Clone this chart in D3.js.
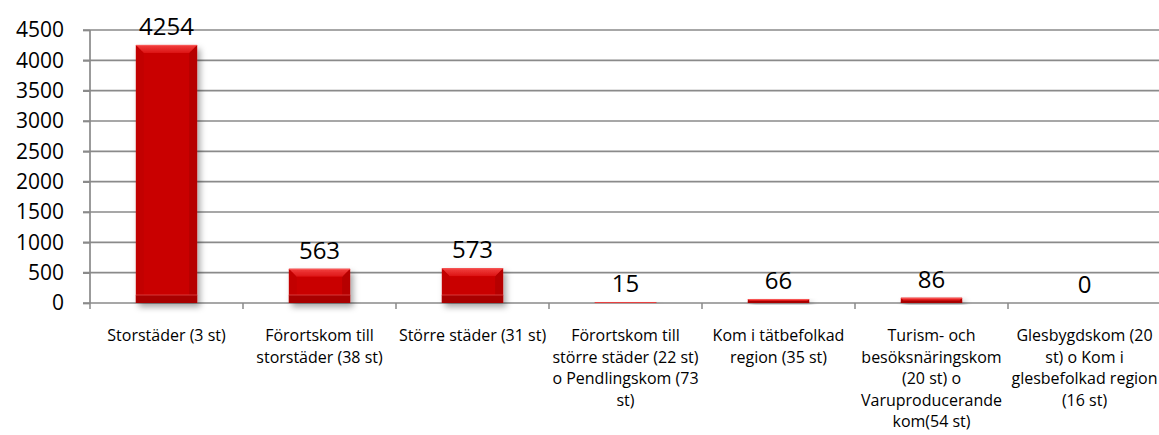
<!DOCTYPE html>
<html>
<head>
<meta charset="utf-8">
<script src="https://cdn.jsdelivr.net/npm/d3@7"></script>
<style>
  html, body { margin: 0; padding: 0; background: #fff; }
  svg { display: block; font-family: "Open Sans", sans-serif; }
</style>
</head>
<body>
<svg id="chart" width="1159" height="435"></svg>
<script>
// Category labels (line breaks as they are set under the axis)
const categories = [
  "Storstäder (3 st)",
  "Förortskom till\nstorstäder (38 st)",
  "Större städer (31 st)",
  "Förortskom till\nstörre städer (22 st)\no Pendlingskom (73\nst)",
  "Kom i tätbefolkad\nregion (35 st)",
  "Turism- och\nbesöksnäringskom\n(20 st) o\nVaruproducerande\nkom(54 st)",
  "Glesbygdskom (20\nst) o Kom i\nglesbefolkad region\n(16 st)"
];
const values = [4254, 563, 573, 15, 66, 86, 0];
const yTicks = [0, 500, 1000, 1500, 2000, 2500, 3000, 3500, 4000, 4500];

const svg = d3.select("#chart");
const plotLeft = 90, plotRight = 1161, plotTop = 30, plotBottom = 303;

const x = d3.scaleBand().domain(categories).range([plotLeft, plotRight]).padding(0);
const y = d3.scaleLinear().domain([0, 4500]).range([plotBottom, plotTop]);

// Shadow and bevel gradients
const defs = svg.append("defs");
const f = defs.append("filter").attr("id", "shadow")
  .attr("x", "-20%").attr("y", "-20%").attr("width", "150%").attr("height", "150%");
f.append("feDropShadow").attr("dx", 3).attr("dy", 4).attr("stdDeviation", 3)
  .attr("flood-color", "#000").attr("flood-opacity", 0.35);

const gTop = defs.append("linearGradient").attr("id", "bevelTop")
  .attr("x1", 0).attr("y1", 0).attr("x2", 0).attr("y2", 1);
gTop.append("stop").attr("offset", "0%").attr("stop-color", "#f2403f");
gTop.append("stop").attr("offset", "100%").attr("stop-color", "#dc1414");

// Horizontal gridlines
svg.append("g")
  .selectAll("line").data(yTicks).join("line")
  .attr("x1", plotLeft - 7).attr("x2", 1159)
  .attr("y1", d => y(d)).attr("y2", d => y(d))
  .attr("stroke", "#8a8a8a").attr("stroke-width", 1.7);

// Value axis
const yAxis = svg.append("g").attr("transform", `translate(${plotLeft},0)`)
  .call(d3.axisLeft(y).tickValues(yTicks).tickSize(7).tickPadding(19).tickFormat(d3.format("d")));
yAxis.select(".domain").attr("stroke", "#8a8a8a").attr("stroke-width", 1.7)
  .attr("d", `M0,${plotTop}V${plotBottom}`);
yAxis.selectAll(".tick line").attr("stroke", "#8a8a8a").attr("stroke-width", 1.7);
yAxis.selectAll(".tick text").attr("font-size", 21).attr("fill", "#000")
  .attr("font-family", "Open Sans, sans-serif");

// Category tick marks on the baseline
const tickXs = d3.range(categories.length + 1).map(i => plotLeft + i * x.bandwidth());
svg.append("g").selectAll("line").data(tickXs).join("line")
  .attr("x1", d => d).attr("x2", d => d)
  .attr("y1", plotBottom).attr("y2", plotBottom + 6)
  .attr("stroke", "#8a8a8a").attr("stroke-width", 1.5);

// Bars with bevelled edges
const barW = x.bandwidth() * 0.4;
const rows = categories.map((c, i) => ({ c, v: values[i] }));
const bars = svg.append("g").selectAll("g").data(rows)
  .join("g").attr("filter", "url(#shadow)");

bars.each(function(d) {
  const g = d3.select(this);
  const x0 = x(d.c) + (x.bandwidth() - barW) / 2, x1 = x0 + barW;
  const y0 = y(d.v), y1 = y(0);
  const h = y1 - y0;
  if (h <= 0) return;
  const b = Math.min(8, h / 2);
  g.append("rect").attr("x", x0).attr("y", y0).attr("width", barW).attr("height", h).attr("fill", "#c90000");
  // side facets
  g.append("polygon").attr("points", [[x0, y0], [x0 + b, y0 + b], [x0 + b, y1 - b], [x0, y1]].join(" "))
    .attr("fill", "#c20000");
  g.append("polygon").attr("points", [[x1, y0], [x1 - b, y0 + b], [x1 - b, y1 - b], [x1, y1]].join(" "))
    .attr("fill", "#b60000");
  // bottom band
  g.append("rect").attr("x", x0).attr("y", y1 - b).attr("width", barW).attr("height", b).attr("fill", "#a80000");
  if (h > 12) {
    g.append("line").attr("x1", x0).attr("x2", x1).attr("y1", y1 - b).attr("y2", y1 - b)
      .attr("stroke", "#e25050").attr("stroke-width", 1).attr("opacity", 0.7);
  }
  // top facet
  g.append("polygon").attr("points", [[x0, y0], [x1, y0], [x1 - b, y0 + b], [x0 + b, y0 + b]].join(" "))
    .attr("fill", "url(#bevelTop)");
  g.append("line").attr("x1", x0).attr("x2", x1).attr("y1", y0 + 0.5).attr("y2", y0 + 0.5)
    .attr("stroke", "#ff6a6a").attr("stroke-width", 1).attr("opacity", 0.6);
});

// Value labels
svg.append("g").selectAll("text").data(rows)
  .join("text")
  .attr("x", d => x(d.c) + x.bandwidth() / 2)
  .attr("y", d => y(d.v) - 10)
  .attr("text-anchor", "middle")
  .attr("font-size", 24)
  .attr("fill", "#000")
  .text(d => d.v);

// Category labels
const cat = svg.append("g").selectAll("text").data(categories).join("text")
  .attr("x", d => x(d) + x.bandwidth() / 2)
  .attr("y", 341)
  .attr("text-anchor", "middle")
  .attr("font-size", 16)
  .attr("fill", "#000");
cat.each(function(d) {
  const t = d3.select(this);
  d.split("\n").forEach((line, i) => {
    t.append("tspan").attr("x", x(d) + x.bandwidth() / 2).attr("dy", i === 0 ? 0 : 21.5).text(line);
  });
});
</script>
</body>
</html>
